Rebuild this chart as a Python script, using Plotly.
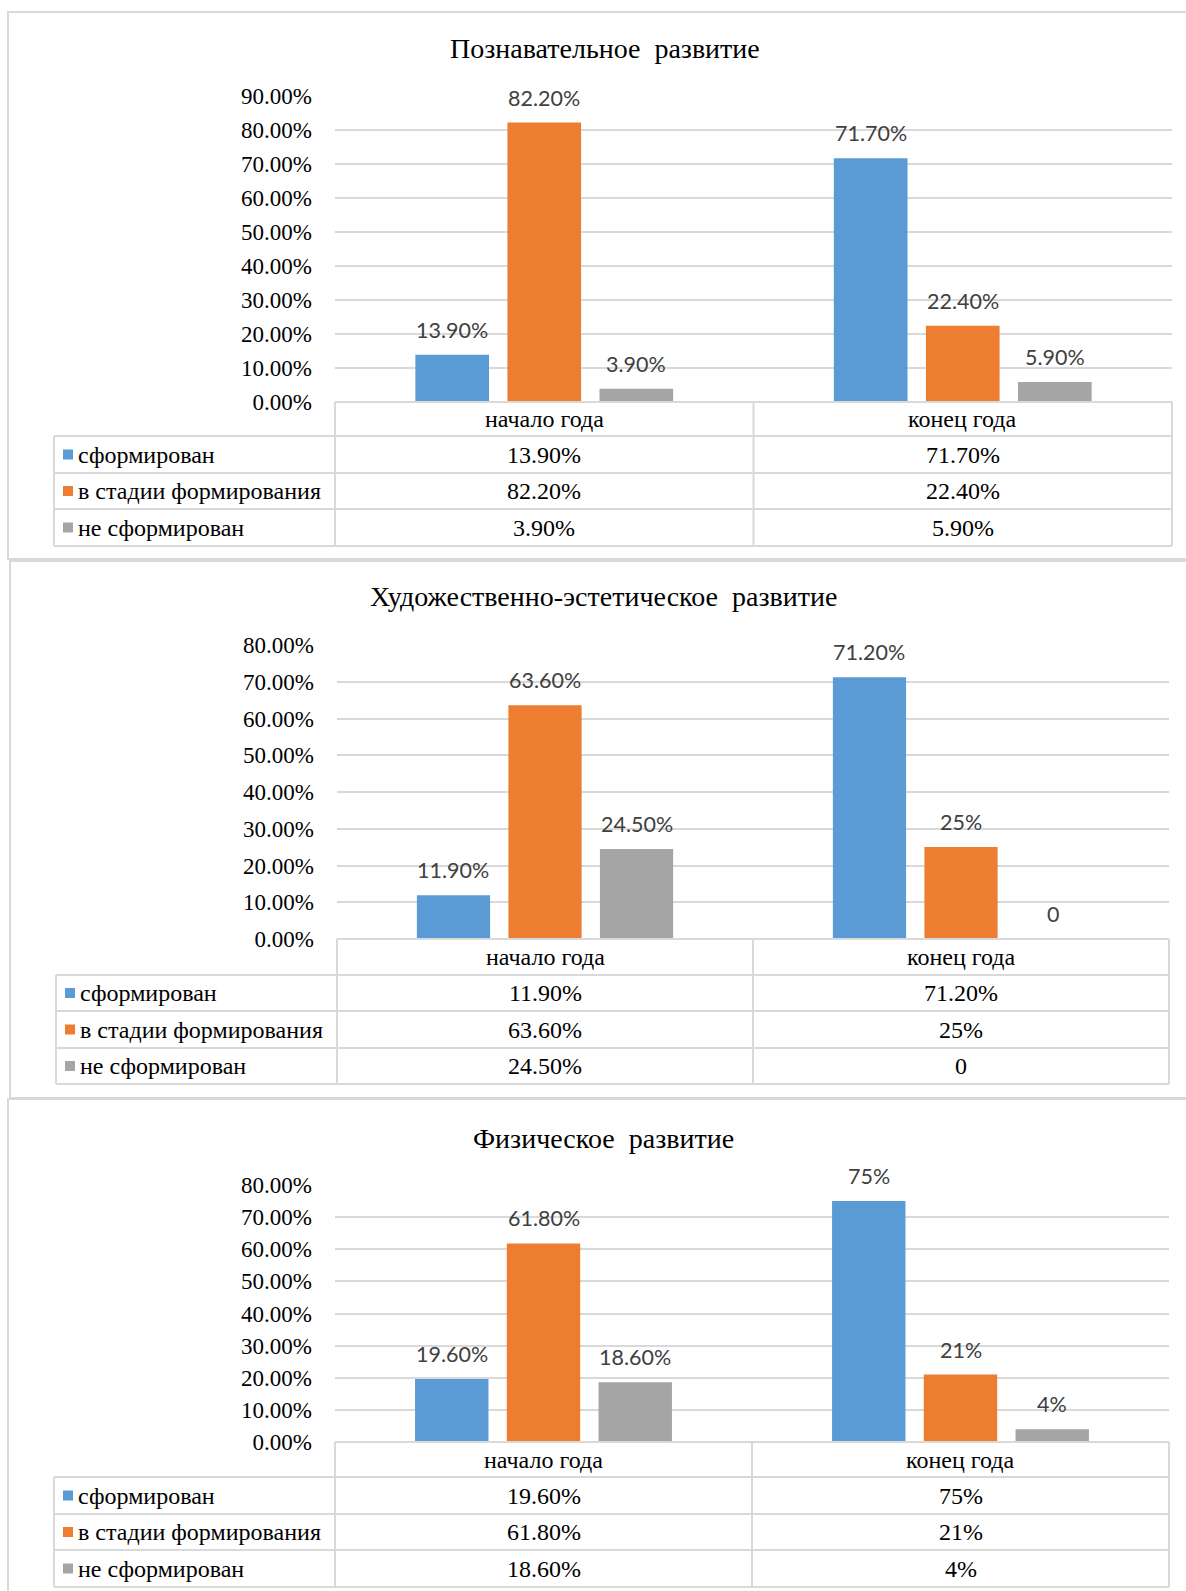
import plotly.graph_objects as go

W, H = 1186, 1591

# ---------------- data ----------------
categories = ["начало года", "конец года"]
series_names = ["сформирован", "в стадии формирования", "не сформирован"]
colors = ["#5B9BD5", "#ED7D31", "#A5A5A5"]

titles = [
    "Познавательное\u00a0 развитие",
    "Художественно-эстетическое\u00a0 развитие",
    "Физическое\u00a0 развитие",
]

# Panel 1: Познавательное развитие
p1_formed = [0.139, 0.717]
p1_forming = [0.822, 0.224]
p1_not = [0.039, 0.059]
p1_formed_lbl = ["13.90%", "71.70%"]
p1_forming_lbl = ["82.20%", "22.40%"]
p1_not_lbl = ["3.90%", "5.90%"]

# Panel 2: Художественно-эстетическое развитие
p2_formed = [0.119, 0.712]
p2_forming = [0.636, 0.25]
p2_not = [0.245, 0.0]
p2_formed_lbl = ["11.90%", "71.20%"]
p2_forming_lbl = ["63.60%", "25%"]
p2_not_lbl = ["24.50%", "0"]

# Panel 3: Физическое развитие
p3_formed = [0.196, 0.75]
p3_forming = [0.618, 0.21]
p3_not = [0.186, 0.04]
p3_formed_lbl = ["19.60%", "75%"]
p3_forming_lbl = ["61.80%", "21%"]
p3_not_lbl = ["18.60%", "4%"]

y_max = [0.9, 0.8, 0.8]

# ---------------- layout geometry (pixels) ----------------
panels = [
    dict(values=[p1_formed, p1_forming, p1_not], labels=[p1_formed_lbl, p1_forming_lbl, p1_not_lbl],
         plot=(335, 1172, 96, 402), rows=[402, 436, 473, 509, 546], tleft=54,
         border=(8, 12, 1195, 559), title_xy=(605, 49)),
    dict(values=[p2_formed, p2_forming, p2_not], labels=[p2_formed_lbl, p2_forming_lbl, p2_not_lbl],
         plot=(337, 1169, 645, 939), rows=[939, 975, 1011, 1048, 1084], tleft=56,
         border=(10, 561, 1195, 1098), title_xy=(604, 597)),
    dict(values=[p3_formed, p3_forming, p3_not], labels=[p3_formed_lbl, p3_forming_lbl, p3_not_lbl],
         plot=(335, 1169, 1185, 1442), rows=[1442, 1477, 1514, 1550, 1587], tleft=54,
         border=(8, 1099, 1195, 1600), title_xy=(604, 1138)),
]

BARGAP = 0.34
BARGROUPGAP = 0.2
LINE = "#D9D9D9"
SERIF = "Liberation Serif"
SANS = "Lato"
TXT = 24


def px(x):
    return x / W


def py(y):
    return 1 - y / H


fig = go.Figure()
shapes = []
annotations = []

for k, p in enumerate(panels):
    ax = "" if k == 0 else str(k + 1)
    xa, ya = "x" + ax, "y" + ax
    L, R, T, B = p["plot"]
    for i, name in enumerate(series_names):
        fig.add_trace(go.Bar(
            x=categories, y=p["values"][i], name=name,
            marker=dict(color=colors[i], line=dict(width=0)),
            xaxis=xa, yaxis=ya, showlegend=False, hoverinfo="skip",
        ))
    fig.layout["xaxis" + ax] = dict(
        domain=[px(L), px(R)], anchor=ya, type="category",
        showticklabels=False, showgrid=False, zeroline=False, showline=False,
        fixedrange=True, automargin=False,
    )
    fig.layout["yaxis" + ax] = dict(
        domain=[py(B), py(T)], anchor=xa, range=[0, y_max[k]],
        dtick=0.1, tick0=0, tickformat=".2%",
        showgrid=True, gridcolor=LINE, gridwidth=2,
        zeroline=False, showline=False, ticks="",
        ticklabelstandoff=22, automargin=False,
        tickfont=dict(family=SERIF, size=23, color="#000000"),
        fixedrange=True,
    )

    # data labels above bars
    cat_w = (R - L) / len(categories)
    slot = cat_w * (1 - BARGAP) / len(series_names)
    for i in range(len(series_names)):
        for j, c in enumerate(categories):
            annotations.append(dict(
                x=c, y=p["values"][i][j], xref=xa, yref=ya,
                text=p["labels"][i][j], showarrow=False,
                xshift=(i - 1) * slot, yshift=25, yanchor="middle", xanchor="center",
                font=dict(family=SANS, size=21.5, color="#404040"),
            ))

    # title
    tx, ty = p["title_xy"]
    annotations.append(dict(
        x=px(tx), y=py(ty), xref="paper", yref="paper", text=titles[k],
        showarrow=False, xanchor="center", yanchor="middle",
        font=dict(family=SERIF, size=28, color="#000000"),
    ))

    # panel border
    bl, bt, br, bb = p["border"]
    shapes.append(dict(type="rect", xref="paper", yref="paper",
                       x0=px(bl), x1=px(br), y0=py(bb), y1=py(bt),
                       line=dict(color=LINE, width=2), layer="below"))

    # data table
    rows = p["rows"]
    tl = p["tleft"]
    mid = (L + R) / 2
    lw = dict(color=LINE, width=2)
    shapes.append(dict(type="line", xref="paper", yref="paper",
                       x0=px(L), x1=px(R), y0=py(rows[0]), y1=py(rows[0]), line=lw))
    for r in rows[1:]:
        shapes.append(dict(type="line", xref="paper", yref="paper",
                           x0=px(tl), x1=px(R), y0=py(r), y1=py(r), line=lw))
    for xv in (L, mid, R):
        shapes.append(dict(type="line", xref="paper", yref="paper",
                           x0=px(xv), x1=px(xv), y0=py(rows[0]), y1=py(rows[-1]), line=lw))
    shapes.append(dict(type="line", xref="paper", yref="paper",
                       x0=px(tl), x1=px(tl), y0=py(rows[1]), y1=py(rows[-1]), line=lw))

    hc = (rows[0] + rows[1]) / 2
    for c in categories:
        annotations.append(dict(
            x=c, xref=xa, y=py(hc), yref="paper", text=c, showarrow=False,
            xanchor="center", yanchor="middle",
            font=dict(family=SERIF, size=TXT, color="#000000"),
        ))
    for i, name in enumerate(series_names):
        rc = (rows[i + 1] + rows[i + 2]) / 2
        shapes.append(dict(type="rect", xref="paper", yref="paper",
                           x0=px(tl + 9), x1=px(tl + 19), y0=py(rc + 5), y1=py(rc - 5),
                           fillcolor=colors[i], line=dict(width=0)))
        annotations.append(dict(
            x=px(tl + 22), y=py(rc), xref="paper", yref="paper", text=name,
            showarrow=False, xanchor="left", yanchor="middle",
            font=dict(family=SERIF, size=TXT, color="#000000"),
        ))
        for j, c in enumerate(categories):
            annotations.append(dict(
                x=c, xref=xa, y=py(rc), yref="paper", text=p["labels"][i][j],
                showarrow=False, xanchor="center", yanchor="middle",
                font=dict(family=SERIF, size=TXT, color="#000000"),
            ))

fig.update_layout(
    width=W, height=H, margin=dict(l=0, r=0, t=0, b=0, pad=0, autoexpand=False),
    paper_bgcolor="#FFFFFF", plot_bgcolor="#FFFFFF",
    barmode="group", bargap=BARGAP, bargroupgap=BARGROUPGAP,
    shapes=shapes, annotations=annotations, showlegend=False,
)

fig.write_html(
    "out.html",
    config={"displayModeBar": False, "staticPlot": True},
    post_script="document.body.style.margin='0';document.body.style.overflow='hidden';",
)
